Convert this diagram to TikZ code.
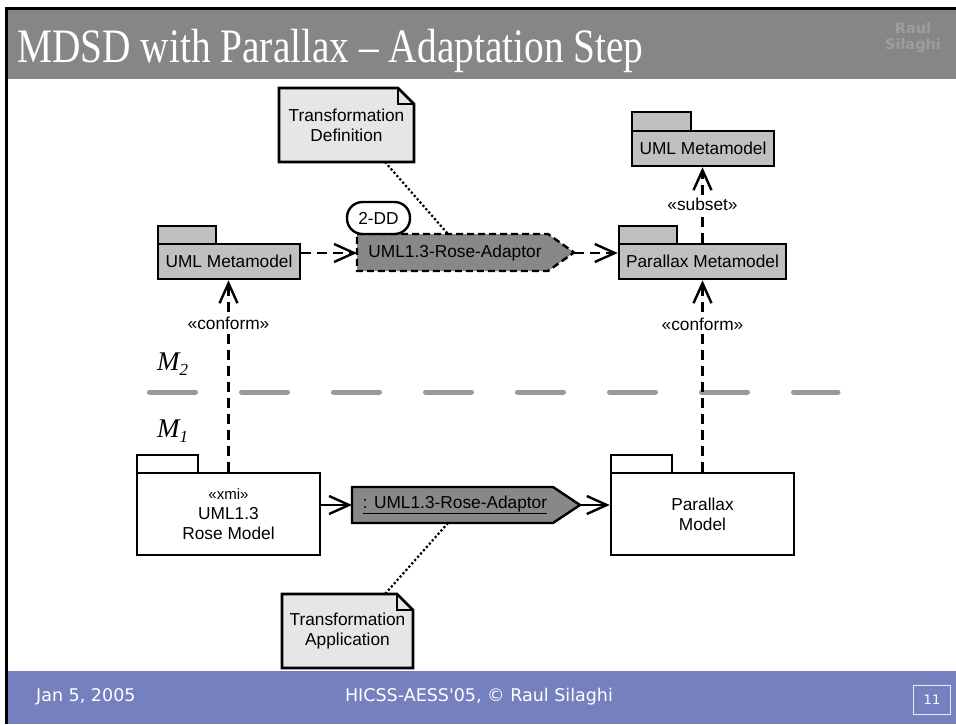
\documentclass[tikz,border=0pt]{standalone}
\usepackage{graphicx}
\usepackage{fontspec}
\setmainfont{Liberation Sans}
\newfontfamily\titlefont{Liberation Serif}
\newfontfamily\footfont{DejaVu Sans}
\usetikzlibrary{arrows.meta}
\definecolor{titlegray}{HTML}{868686}
\definecolor{footblue}{HTML}{7580BF}
\definecolor{pkggray}{HTML}{C0C0C0}
\definecolor{adgray}{HTML}{888888}
\definecolor{notegray}{HTML}{E6E6E6}
\definecolor{sepgray}{HTML}{9A9A9A}
\definecolor{wmgray}{HTML}{9E9E9E}
\begin{document}
\begin{tikzpicture}[x=1pt,y=-1pt,
  every node/.style={font=\fontsize{17.3}{20}\selectfont, inner sep=0pt, align=center},
  pkgbody/.style={draw, line width=2.6pt, inner sep=0pt},
  tabbox/.style={draw, line width=2.6pt},
  dep/.style={line width=2.4pt, dash pattern=on 10pt off 6pt, -{Straight Barb[length=20pt,width=18pt,line width=2.4pt]}},
  flow/.style={line width=2.4pt, -{Straight Barb[length=20pt,width=18pt,line width=2.4pt]}},
  dots/.style={line width=2.2pt, dash pattern=on 2.2pt off 2.2pt},
  stereo/.style={fill=white, inner sep=1.5pt},
  notebox/.style={draw, line width=2.6pt, fill=notegray, line join=miter}
]
\useasboundingbox (0,0) rectangle (956,724);
\fill[white] (0,0) rectangle (956,724);
% title bar
\fill[titlegray] (5,9) rectangle (956,79);
\fill[black] (5,7) rectangle (956,9.5);
\fill[footblue] (5,671) rectangle (956,724);
\fill[black] (5,7) rectangle (7.5,724);
\node[anchor=base west, text=white] (title) at (17,62)
  {\scalebox{0.82}[1]{\titlefont\fontsize{48}{48}\selectfont MDSD with Parallax – Adaptation Step}};
\node[text=wmgray, font=\footfont\bfseries\fontsize{14.5}{16}\selectfont, align=center] (wm) at (913,38) {Raul\\Silaghi};

% footer
\node[text=white, font=\footfont\fontsize{17.5}{19}\selectfont, anchor=west] (date) at (36,697) {Jan 5, 2005};
\node[text=white, font=\footfont\fontsize{17.5}{19}\selectfont] (conf) at (479,697) {HICSS-AESS'05, © Raul Silaghi};
\node[draw=white!85!footblue, line width=1.3pt, minimum width=37pt, minimum height=29pt, text=white, font=\footfont\fontsize{13}{14}\selectfont] (pg) at (932,700) {11};

% separator and levels
\draw[line width=5pt, color=sepgray, line cap=round, dash pattern=on 46pt off 46pt] (149.5,392) -- (838,392);
\node[anchor=base west, font=\titlefont\itshape\fontsize{27}{27}\selectfont] (m2) at (157,370) {M\raisebox{-0.22em}{\fontsize{17}{17}\selectfont 2}};
\node[anchor=base west, font=\titlefont\itshape\fontsize{27}{27}\selectfont] (m1) at (157,437) {M\raisebox{-0.22em}{\fontsize{17}{17}\selectfont 1}};

% packages (M2)
\draw[tabbox, fill=pkggray] (158,226) rectangle (216,244);
\node[pkgbody, fill=pkggray, minimum width=142pt, minimum height=35pt] (umlL) at (229,261.5) {UML Metamodel};
\draw[tabbox, fill=pkggray] (619,226) rectangle (677,244);
\node[pkgbody, fill=pkggray, minimum width=167pt, minimum height=35pt] (parM) at (702.5,261.5) {Parallax Metamodel};
\draw[tabbox, fill=pkggray] (632,112) rectangle (691,131);
\node[pkgbody, fill=pkggray, minimum width=142pt, minimum height=35pt] (umlR) at (703,148.5) {UML Metamodel};

% packages (M1)
\draw[tabbox, fill=white] (137,455) rectangle (198,473);
\node[pkgbody, fill=white, minimum width=183pt, minimum height=82pt] (rose) at (228.5,514)
  {{\fontsize{15}{17}\selectfont «xmi»}\\UML1.3\\Rose Model};
\draw[tabbox, fill=white] (611,455) rectangle (672,473);
\node[pkgbody, fill=white, minimum width=183pt, minimum height=82pt] (pmodel) at (702.5,514) {Parallax\\Model};

% adaptor definition (dashed)
\draw[line width=2.4pt, dash pattern=on 7pt off 4pt, fill=adgray, line join=miter]
  (357,234) -- (548,234) -- (574,252.5) -- (548,271) -- (357,271) -- cycle;
\node (ad1) at (455,253) {UML1.3-Rose-Adaptor};
\coordinate (ad1w) at (357,253);
\coordinate (ad1e) at (574,253);
\coordinate (ad1n) at (448,234);
\node[draw, line width=2.4pt, fill=white, rounded corners=15.5pt, minimum width=63pt, minimum height=32pt] (dd) at (378.5,218) {2-DD};

% adaptor application (solid)
\draw[line width=2.4pt, fill=adgray, line join=miter]
  (352,487) -- (553,487) -- (580,505) -- (553,523) -- (352,523) -- cycle;
\node (ad2) at (455,505) {\underline{: UML1.3-Rose-Adaptor}};
\coordinate (ad2w) at (352,505);
\coordinate (ad2e) at (580,505);
\coordinate (ad2s) at (448,523);

% notes
\draw[notebox] (279,88) -- (398,88) -- (414,104) -- (414,162) -- (279,162) -- cycle;
\draw[line width=2pt] (398,88) -- (398,104) -- (414,104);
\node (n1) at (346.5,125) {Transformation\\Definition};
\coordinate (n1s) at (385,162);
\draw[notebox] (282,594) -- (397,594) -- (413,610) -- (413,668) -- (282,668) -- cycle;
\draw[line width=2pt] (397,594) -- (397,610) -- (413,610);
\node (n2) at (347.5,631) {Transformation\\Application};
\coordinate (n2n) at (385,594);

% dotted note links
\draw[dots] (n1s) -- (ad1n);
\draw[dots] (ad2s) -- (n2n);

% dependencies
\draw[dep] (umlL.east |- ad1w) -- (ad1w);
\draw[dep] (ad1e) -- (parM.west |- ad1e);
\draw[dep] (parM.north) -- (parM.north |- umlR.south);
\node[stereo] (sub) at (702.5,204) {«subset»};
\draw[dep] (pmodel.north) -- (pmodel.north |- parM.south);
\node[stereo] (cR) at (702.5,324) {«conform»};
\draw[dep] (rose.north) -- (rose.north |- umlL.south);
\node[stereo] (cL) at (228.5,323) {«conform»};

% flows
\draw[flow] (rose.east |- ad2w) -- (ad2w);
\draw[flow] (ad2e) -- (pmodel.west |- ad2e);
\end{tikzpicture}
\end{document}
